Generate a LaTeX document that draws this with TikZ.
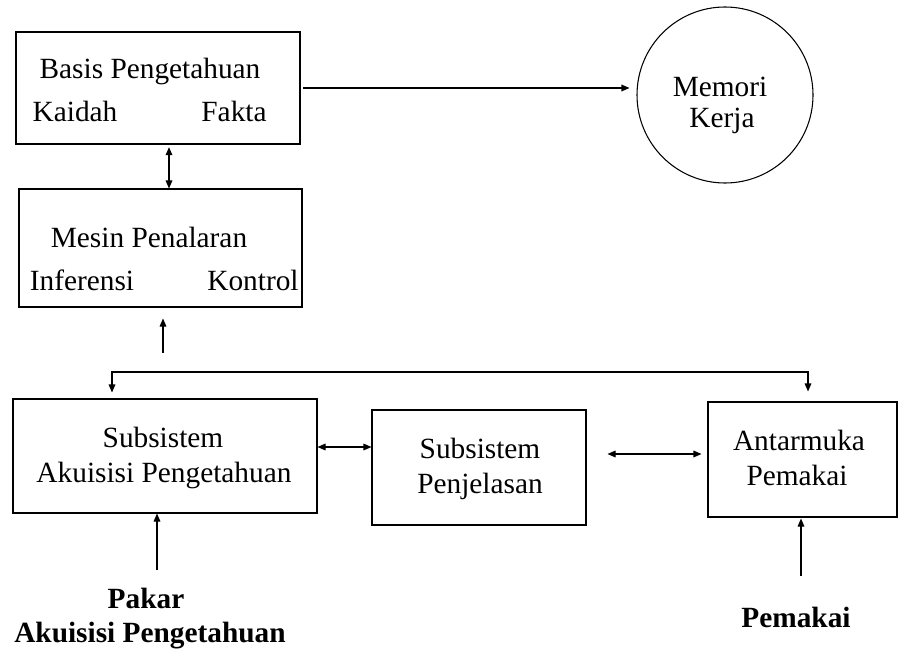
\documentclass[tikz,border=0pt]{standalone}
\usepackage{fontspec}
\setmainfont{Liberation Serif}
\usetikzlibrary{arrows.meta,calc}
\begin{document}
\begin{tikzpicture}[x=0.75pt,y=-0.75pt,
  box/.style={draw,line width=0.8pt,inner sep=0pt},
  txt/.style={font=\fontsize{22}{26}\selectfont,anchor=base,inner sep=0pt},
  btxt/.style={font=\fontsize{22}{26}\selectfont\bfseries,anchor=base,inner sep=0pt},
  arr/.style={line width=0.8pt,-{Triangle[length=6pt,width=5pt]}},
  darr/.style={line width=0.8pt,{Triangle[length=6pt,width=5pt]}-{Triangle[length=6pt,width=5pt]}}]
\useasboundingbox (0,0) rectangle (899,656);
% Basis Pengetahuan
\node[box,minimum width=213pt,minimum height=84pt] (basis) at (158,88) {};
\node[txt] (basisT) at (150,79) {Basis Pengetahuan};
\node[txt] (kaidah) at (75,122) {Kaidah};
\node[txt] (fakta) at (234,122) {Fakta};
% Mesin Penalaran
\node[box,minimum width=212.25pt,minimum height=88.5pt] (mesin) at (160.5,248) {};
\node[txt] (mesinT) at (149,247) {Mesin Penalaran};
\node[txt] (inferensi) at (82,290) {Inferensi};
\node[txt] (kontrol) at (253,290) {Kontrol};
% Memori Kerja
\node[draw,circle,line width=0.8pt,minimum size=132pt,inner sep=0pt] (memori) at (725,95) {};
\node[txt] (memoriT) at (720,97) {Memori};
\node[txt] (kerja) at (722,128) {Kerja};
% Subsistem Akuisisi
\node[box,minimum width=228pt,minimum height=85.5pt] (akuisisi) at (165,456) {};
\node[txt] (akuT1) at (163,447) {Subsistem};
\node[txt] (akuT2) at (164,482) {Akuisisi Pengetahuan};
% Subsistem Penjelasan
\node[box,minimum width=160.5pt,minimum height=86.25pt] (penjelasan) at (479,467.5) {};
\node[txt] (penT1) at (480,458) {Subsistem};
\node[txt] (penT2) at (480,493) {Penjelasan};
% Antarmuka Pemakai
\node[box,minimum width=141.75pt,minimum height=86.25pt] (antarmuka) at (802.5,459.5) {};
\node[txt] (antT1) at (799,450) {Antarmuka};
\node[txt] (antT2) at (797,485) {Pemakai};
% bottom labels
\node[btxt] (pakar) at (146,608) {Pakar};
\node[btxt] (pakarB) at (150,642) {Akuisisi Pengetahuan};
\node[btxt] (pemakai) at (796,627) {Pemakai};
% connectors
\draw[arr,shorten <=2pt,shorten >=5.25pt] (basis.east) -- (basis.east -| memori.west);
\draw[darr,shorten <=2pt] ($(basis.south)+(11,0)$) -- ($(mesin.north)+(8.5,0)$);
\coordinate (mup) at (163,353);
\draw[arr,shorten >=8.25pt] (mup) -- (mup |- mesin.south);
\coordinate (busL) at (112,372);
\coordinate (busR) at (808,372);
\draw[darr,shorten <=4.5pt,shorten >=7.5pt] (busL |- akuisisi.north) -- (busL) -- (busR) -- (busR |- antarmuka.north);
\coordinate (ap) at ($(akuisisi.east)+(0,-9)$);
\draw[darr] (ap) -- (ap -| penjelasan.west);
\coordinate (pa) at ($(penjelasan.east)+(21,-13.5)$);
\draw[darr,shorten >=4.5pt] (pa) -- (pa -| antarmuka.west);
\coordinate (pk) at (157,570);
\draw[arr] (pk) -- (pk |- akuisisi.south);
\coordinate (pm) at (801,576);
\draw[arr,shorten >=0.75pt] (pm) -- (pm |- antarmuka.south);
\end{tikzpicture}
\end{document}
